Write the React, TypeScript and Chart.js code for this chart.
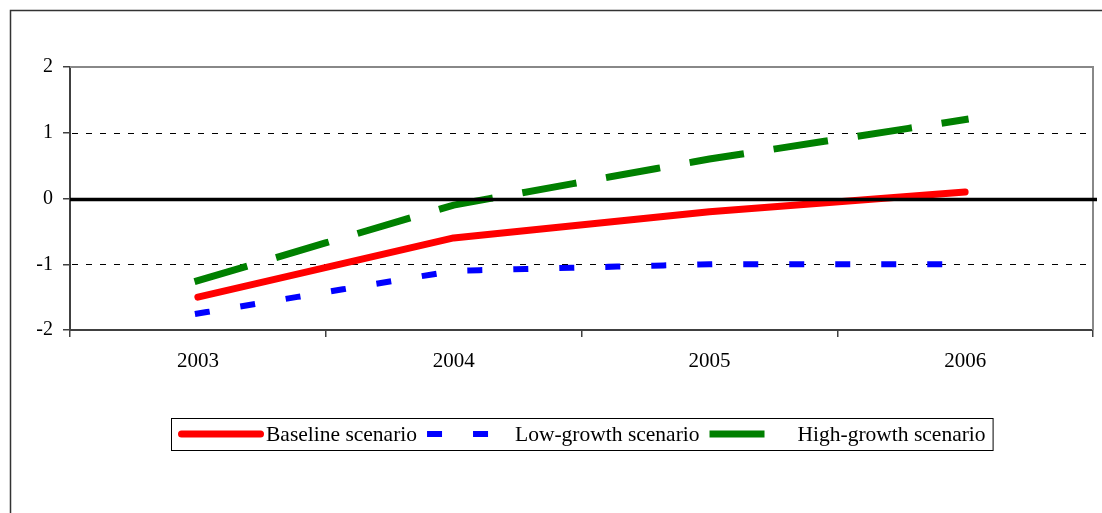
import React, { useEffect, useRef } from "react";
import { Chart, registerables } from "chart.js";

Chart.register(...registerables);

// Scenario data (percentage points), one value per year
const years = ["2003", "2004", "2005", "2006"];
const baseline = [-1.5, -0.6, -0.2, 0.1];
const lowGrowth = [-1.75, -1.1, -1.0, -1.0];
const highGrowth = [-1.25, -0.1, 0.6, 1.2];

// Value axis range
const yMin = -2;
const yMax = 2;
const yStep = 1;

const SERIF = '"Liberation Serif", "Times New Roman", serif';

// Dashed gridlines and the grey top/right frame of the plot area
const frameGrid = {
  id: "frameGrid",
  beforeDatasetsDraw(chart: any) {
    const { ctx, chartArea } = chart;
    const { left, right, top, bottom } = chartArea;
    const ys = chart.scales.y;
    ctx.save();
    ctx.strokeStyle = "#000";
    ctx.lineWidth = 1;
    ctx.setLineDash([6, 8]);
    for (let v = yMin + yStep; v < yMax; v += yStep) {
      const py = Math.round(ys.getPixelForValue(v)) + 0.5;
      ctx.beginPath();
      ctx.moveTo(left + 2, py);
      ctx.lineTo(right, py);
      ctx.stroke();
    }
    ctx.setLineDash([]);
    ctx.strokeStyle = "#888";
    ctx.lineWidth = 2;
    ctx.beginPath();
    ctx.moveTo(left, top);
    ctx.lineTo(right, top);
    ctx.lineTo(right, bottom);
    ctx.stroke();
    ctx.restore();
  },
  afterDatasetsDraw(chart: any) {
    // bold zero reference line, drawn over the series
    const { ctx, chartArea } = chart;
    const py = chart.scales.y.getPixelForValue(0) + 1;
    ctx.save();
    ctx.strokeStyle = "#000";
    ctx.lineWidth = 3.5;
    ctx.beginPath();
    ctx.moveTo(chartArea.left, py);
    ctx.lineTo(chartArea.right + 4, py);
    ctx.stroke();
    ctx.restore();
  },
};

// Outer frame and the boxed legend below the axis
const frameLegend = {
  id: "frameLegend",
  afterDraw(chart: any) {
    const { ctx, chartArea, width, height } = chart;
    ctx.save();
    ctx.strokeStyle = "#333";
    ctx.lineWidth = 1.5;
    ctx.beginPath();
    ctx.moveTo(10.5, height);
    ctx.lineTo(10.5, 10.5);
    ctx.lineTo(width, 10.5);
    ctx.stroke();

    ctx.font = `21.5px ${SERIF}`;
    const sampleW = 86;
    const textGap = 2;
    const itemGap = 10;
    const datasets = chart.data.datasets;
    const widths = datasets.map((d: any) => ctx.measureText(d.label).width);
    const total =
      widths.reduce((a: number, w: number) => a + sampleW + textGap + w, 0) +
      itemGap * (datasets.length - 1);
    const cx = (chartArea.left + chartArea.right) / 2;
    const boxW = total + 14;
    const boxL = Math.round(cx - boxW / 2);
    const boxT = 418;
    const boxH = 32;
    ctx.strokeStyle = "#000";
    ctx.lineWidth = 1;
    ctx.strokeRect(boxL + 0.5, boxT + 0.5, boxW, boxH);

    let x = boxL + 7;
    const cy = boxT + 16;
    datasets.forEach((d: any, i: number) => {
      const lw = d.borderWidth;
      ctx.save();
      ctx.strokeStyle = d.borderColor;
      ctx.lineWidth = lw;
      ctx.lineCap = d.borderCapStyle || "butt";
      ctx.setLineDash(d.borderDash || []);
      ctx.beginPath();
      ctx.moveTo(x + lw / 2, cy);
      ctx.lineTo(x + sampleW - lw / 2 + (d.borderDash ? 3 : 0), cy);
      ctx.stroke();
      ctx.restore();
      ctx.fillStyle = "#000";
      ctx.textBaseline = "alphabetic";
      ctx.textAlign = "left";
      ctx.fillText(d.label, x + sampleW + textGap, boxT + 23);
      x += sampleW + textGap + widths[i] + itemGap;
    });
    ctx.restore();
  },
};

export default function App() {
  const canvasRef = useRef<HTMLCanvasElement | null>(null);

  useEffect(() => {
    if (!canvasRef.current) return;
    const chart = new Chart(canvasRef.current, {
      type: "line",
      data: {
        labels: years,
        datasets: [
          {
            label: "Baseline scenario",
            data: baseline,
            borderColor: "#ff0000",
            borderWidth: 7,
            borderCapStyle: "round",
            borderJoinStyle: "round",
            pointRadius: 0,
          },
          {
            label: "Low-growth scenario",
            data: lowGrowth,
            borderColor: "#0000ff",
            borderWidth: 6,
            borderDash: [9, 37],
            borderCapStyle: "square",
            pointRadius: 0,
          },
          {
            label: "High-growth scenario",
            data: highGrowth,
            borderColor: "#008000",
            borderWidth: 7,
            borderDash: [48, 37],
            borderCapStyle: "square",
            pointRadius: 0,
          },
        ],
      },
      options: {
        animation: false,
        responsive: true,
        maintainAspectRatio: false,
        layout: { padding: { left: 10, top: 67, right: 9, bottom: 133 } },
        plugins: {
          legend: { display: false },
          tooltip: { enabled: false },
        },
        scales: {
          x: {
            offset: true,
            grid: {
              offset: true,
              drawOnChartArea: false,
              drawTicks: true,
              tickLength: 7,
              color: "#404040",
              lineWidth: 1.5,
            },
            border: { display: true, color: "#404040", width: 2 },
            ticks: {
              font: { family: SERIF, size: 21 },
              color: "#000",
              padding: 12,
              maxRotation: 0,
              autoSkip: false,
            },
            afterFit: (s: any) => {
              s.height = 50;
            },
          },
          y: {
            min: yMin,
            max: yMax,
            ticks: {
              stepSize: yStep,
              font: { family: SERIF, size: 20 },
              color: "#000",
              padding: 10,
            },
            grid: {
              drawOnChartArea: false,
              drawTicks: true,
              tickLength: 7,
              color: "#404040",
              lineWidth: 1.5,
            },
            border: { display: true, color: "#404040", width: 2 },
            afterFit: (s: any) => {
              s.width = 60;
            },
          },
        },
      },
      plugins: [frameGrid, frameLegend],
    });
    return () => chart.destroy();
  }, []);

  return (
    <div
      style={{
        position: "absolute",
        left: 0,
        top: 0,
        width: 1102,
        height: 513,
        background: "#fff",
      }}
    >
      <canvas ref={canvasRef} />
    </div>
  );
}
